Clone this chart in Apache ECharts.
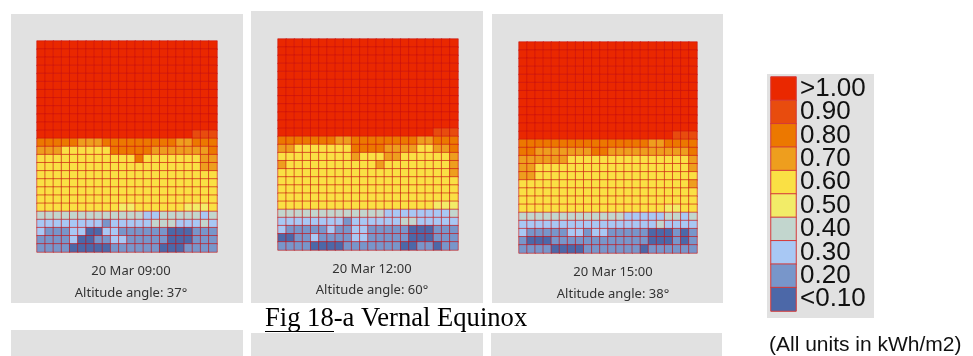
<!DOCTYPE html>
<html>
<head>
<meta charset="utf-8">
<script src="https://cdn.jsdelivr.net/npm/echarts@6/dist/echarts.min.js"></script>
<style>
html, body { margin: 0; background: #fff; }
#main { width: 973px; height: 356px; }
</style>
</head>
<body>
<div id="main"></div>
<script>
// legend bins, top to bottom (level 9 = >1.00 ... level 0 = <0.10)
const levelLabels = ['>1.00', '0.90', '0.80', '0.70', '0.60', '0.50', '0.40', '0.30', '0.20', '<0.10']
const levelColors = ['#ea2800', '#e84c0e', '#ec7800', '#ee9e1e', '#fae044', '#f2ec68', '#c2d6ce', '#a8c8f4', '#7896ca', '#4c68a8']

// each row = 22 cells, digit = level (9 >1.00 ... 0 <0.10)
const mar0900 = [
  '9999999999999999999999', '9999999999999999999999', '9999999999999999999999',
  '9999999999999999999999', '9999999999999999999999', '9999999999999999999999',
  '9999999999999999999999', '9999999999999999999999', '9999999999999999999999',
  '9999999999999999999999', '9999999999999999999999', '9999999999999999999888',
  '7777766677777777766777', '6665555557777766666667', '5555555555557555555566',
  '5555555555555555555566', '5555555555555555555555', '5555555555555555555555',
  '5555555555555555555555', '5555555555555555555555', '5555555555445555554445',
  '3333333333333223333323', '2222222212222233322232', '2111220022111111000111',
  '1111200112211111000111', '1111000001111110001111'
]
const mar1200 = [
  '9999999999999999999999', '9999999999999999999999', '9999999999999999999999',
  '9999999999999999999999', '9999999999999999999999', '9999999999999999999999',
  '9999999999999999999999', '9999999999999999999999', '9999999999999999999999',
  '9999999999999999999999', '9999999999999999999999', '9999999999999999999888',
  '7777777667777777766777', '6655555557777666655667', '5555555556555665555556',
  '6555555555556555555556', '5555555555555555555556', '5555555555555555555555',
  '5555555555555555555555', '5555555555555555555555', '5555555555555555555444',
  '3333333333333222222223', '2222222212222223322222', '2111112112211111000111',
  '0011211112211111000111', '1111000011111110011011'
]
const mar1500 = [
  '9999999999999999999999', '9999999999999999999999', '9999999999999999999999',
  '9999999999999999999999', '9999999999999999999999', '9999999999999999999999',
  '9999999999999999999999', '9999999999999999999999', '9999999999999999999999',
  '9999999999999999999999', '9999999999999999999999', '9999999999999999999888',
  '7777777777777777667777', '7766666667766666666667', '6666665555555555555556',
  '6655555555555555555556', '6655555555555555555555', '5555555555555555555556',
  '5555555555555555555555', '5555555555555555555555', '5555555555555555554455',
  '3333333333333222223323', '2222222222222222232222', '2111112212211111000101',
  '1000111111111111000101', '1111000011111110111111'
]
const dateLabels = ['20 Mar 09:00', '20 Mar 12:00', '20 Mar 15:00']
const altitudeLabels = ['Altitude angle: 37°', 'Altitude angle: 60°', 'Altitude angle: 38°']

const panels = [mar0900, mar1200, mar1500]
const nCols = 22
const nRows = 26
const colCats = Array.from({ length: nCols }, (_, i) => String(i))
const rowCats = Array.from({ length: nRows }, (_, i) => String(i))

function toCells(rows) {
  const out = []
  rows.forEach((row, r) => {
    row.split('').forEach((ch, c) => out.push([c, r, Number(ch)]))
  })
  return out
}

// panel frames: grey box, grid, text centre
const boxes = [
  { x: 11, y: 14, w: 232, h: 289, gl: 37, gt: 41, gw: 180, gh: 211, tx: 131, ty1: 271, ty2: 293 },
  { x: 251, y: 11, w: 232, h: 292, gl: 278, gt: 39, gw: 180, gh: 211, tx: 372, ty1: 269, ty2: 290 },
  { x: 492, y: 14, w: 231, h: 289, gl: 519, gt: 42, gw: 178, gh: 211, tx: 613, ty1: 272, ty2: 294 }
]

const myChart = echarts.init(document.getElementById('main'))

const grid = boxes.map(b => ({ left: b.gl, top: b.gt, width: b.gw, height: b.gh }))
grid.push({ left: 771, top: 77, width: 25, height: 234 })

const xAxis = boxes.map((b, i) => ({ type: 'category', gridIndex: i, data: colCats, show: false }))
xAxis.push({ type: 'category', gridIndex: 3, data: ['k'], show: false })

const yAxis = boxes.map((b, i) => ({ type: 'category', gridIndex: i, data: rowCats, inverse: true, show: false }))
yAxis.push({
  type: 'category', gridIndex: 3, data: levelLabels, inverse: true, position: 'right',
  axisLine: { show: false }, axisTick: { show: false },
  axisLabel: { interval: 0, margin: 4, fontSize: 26, color: '#111', fontFamily: 'Liberation Sans' }
})

const series = panels.map((rows, i) => ({
  type: 'heatmap',
  xAxisIndex: i,
  yAxisIndex: i,
  data: toCells(rows),
  itemStyle: { borderColor: 'rgba(200,16,16,0.6)', borderWidth: 1 },
  emphasis: { disabled: true }
}))
series.push({
  type: 'heatmap',
  xAxisIndex: 3,
  yAxisIndex: 3,
  data: levelLabels.map((l, i) => [0, i, 9 - i]),
  itemStyle: { borderColor: '#d43a3a', borderWidth: 1 },
  emphasis: { disabled: true }
})

const graphic = []
boxes.forEach((b, i) => {
  graphic.push({ type: 'rect', z: -1, shape: { x: b.x, y: b.y, width: b.w, height: b.h }, style: { fill: '#e1e1e1' } })
  graphic.push({ type: 'text', style: { text: dateLabels[i], x: b.tx, y: b.ty1, align: 'center', verticalAlign: 'middle', textAlign: 'center', textVerticalAlign: 'middle', fontSize: 13, fontFamily: 'Noto Sans', fill: '#333' } })
  graphic.push({ type: 'text', style: { text: altitudeLabels[i], x: b.tx, y: b.ty2, align: 'center', verticalAlign: 'middle', textAlign: 'center', textVerticalAlign: 'middle', fontSize: 13, fontFamily: 'Noto Sans', fill: '#333' } })
})
// partial panels of the next figure row
graphic.push({ type: 'rect', z: -1, shape: { x: 11, y: 330, width: 232, height: 26 }, style: { fill: '#e1e1e1' } })
graphic.push({ type: 'rect', z: -1, shape: { x: 251, y: 333, width: 232, height: 23 }, style: { fill: '#e1e1e1' } })
graphic.push({ type: 'rect', z: -1, shape: { x: 491, y: 333, width: 231, height: 23 }, style: { fill: '#e1e1e1' } })
// legend box
graphic.push({ type: 'rect', z: -1, shape: { x: 767, y: 74, width: 107, height: 244 }, style: { fill: '#e1e1e1' } })
// caption
graphic.push({ type: 'text', style: { text: 'Fig 18-a Vernal Equinox', x: 265, y: 319, align: 'left', verticalAlign: 'middle', textAlign: 'left', textVerticalAlign: 'middle', fontSize: 26.6, fontFamily: 'Liberation Serif', fill: '#000' } })
graphic.push({ type: 'line', shape: { x1: 265, y1: 331.5, x2: 334, y2: 331.5 }, style: { stroke: '#000', lineWidth: 1 } })
graphic.push({ type: 'text', style: { text: '(All units in kWh/m2)', x: 769, y: 345, align: 'left', verticalAlign: 'middle', textAlign: 'left', textVerticalAlign: 'middle', fontSize: 21, fontFamily: 'Liberation Sans', fill: '#111' } })

const option = {
  animation: false,
  grid: grid,
  xAxis: xAxis,
  yAxis: yAxis,
  visualMap: {
    type: 'piecewise',
    show: false,
    dimension: 2,
    pieces: levelLabels.map((l, i) => ({ value: 9 - i, color: levelColors[i] }))
  },
  series: series,
  graphic: graphic
}
myChart.setOption(option)
</script>
</body>
</html>
